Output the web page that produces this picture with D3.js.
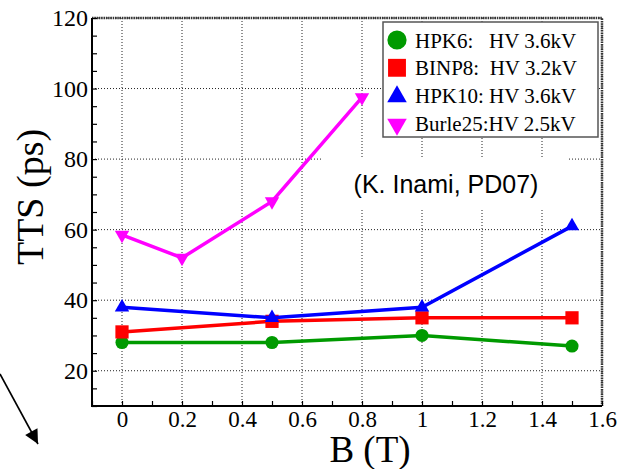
<!DOCTYPE html>
<html>
<head>
<meta charset="utf-8">
<script src="https://cdn.jsdelivr.net/npm/d3@7"></script>
<style>
  body { margin: 0; background: #fff; }
</style>
</head>
<body>
<svg id="chart"></svg>
<script>
// TTS vs magnetic field
var bField = [0, 0.5, 1.0, 1.5];
var hpk6 = [28, 28, 30, 27];
var binp8 = [31, 34, 35, 35];
var hpk10 = [38, 35, 38, 61];
var burleField = [0, 0.2, 0.5, 0.8];
var burle25 = [58.5, 52, 68, 97.5];

var legendLabels = ["HPK6:   HV 3.6kV", "BINP8:  HV 3.2kV", "HPK10: HV 3.6kV", "Burle25:HV 2.5kV"];
var xTicks = [0, 0.2, 0.4, 0.6, 0.8, 1, 1.2, 1.4, 1.6];
var yTicks = [20, 40, 60, 80, 100, 120];

serif = "'Liberation Serif', 'Times New Roman', serif";
sans = "'Liberation Sans', Arial, sans-serif";

width = 622;
height = 469;
margin = {left: 92, right: 20, top: 18, bottom: 63};

svg = d3.select("#chart")
    .attr("width", width)
    .attr("height", height);

x = d3.scaleLinear()
    .domain([-0.1, 1.6])
    .range([margin.left, width - margin.right]);

y = d3.scaleLinear()
    .domain([10, 120])
    .range([height - margin.bottom, margin.top]);

series = [
    {xs: bField, ys: hpk6, color: "#009a00", symbol: d3.symbolCircle, size: 135, big: 290, rot: 0},
    {xs: bField, ys: binp8, color: "#ff0000", symbol: d3.symbolSquare, size: 175, big: 320, rot: 0},
    {xs: bField, ys: hpk10, color: "#0000ff", symbol: d3.symbolTriangle, size: 90, big: 165, rot: 0},
    {xs: burleField, ys: burle25, color: "#ff00ff", symbol: d3.symbolTriangle, size: 90, big: 165, rot: 180}
];

// dotted grid
grid = svg.append("g");
grid.selectAll(".gx")
    .data(xTicks)
    .enter().append("line")
    .attr("x1", (d) => x(d)).attr("x2", (d) => x(d))
    .attr("y1", y(10)).attr("y2", y(120));
grid.selectAll(".gy")
    .data(yTicks)
    .enter().append("line")
    .attr("x1", x(-0.1)).attr("x2", x(1.6))
    .attr("y1", (d) => y(d)).attr("y2", (d) => y(d));
grid.selectAll("line")
    .attr("stroke", "#222")
    .attr("stroke-width", 1)
    .attr("stroke-dasharray", "1,2");

// white patch behind the annotation
svg.append("rect")
    .attr("x", 323).attr("y", 157)
    .attr("width", 245).attr("height", 51)
    .attr("fill", "#fff");

// top and right frame, hatched look
svg.append("path")
    .attr("d", "M" + x(-0.1) + "," + y(120) + "H" + x(1.6) + "V" + y(10))
    .attr("fill", "none")
    .attr("stroke", "#333")
    .attr("stroke-width", 2.5)
    .attr("stroke-dasharray", "1.5,0.8");

// axes: labels only, minor ticks drawn inward separately
svg.append("g")
    .attr("transform", "translate(0," + y(10) + ")")
    .call(d3.axisBottom(x).tickValues(xTicks).tickSize(0).tickPadding(5)
        .tickFormat((d) => d3.format("~g")(d)))
    .call((g) => g.select(".domain").remove())
    .selectAll("text")
    .style("font-size", "23px")
    .style("font-family", serif)
    .attr("fill", "#000");

svg.append("g")
    .attr("transform", "translate(" + x(-0.1) + ",0)")
    .call(d3.axisLeft(y).tickValues(yTicks).tickSize(0).tickPadding(4))
    .call((g) => g.select(".domain").remove())
    .selectAll("text")
    .style("font-size", "24px")
    .style("font-family", serif)
    .attr("fill", "#000");

svg.append("g")
    .attr("transform", "translate(0," + y(10) + ")")
    .call(d3.axisTop(x).tickValues(d3.range(-0.1, 1.65, 0.1)).tickSize(5).tickFormat(""))
    .call((g) => g.select(".domain").remove())
    .selectAll("line").attr("stroke", "#000").attr("stroke-width", 1.2);

svg.append("g")
    .attr("transform", "translate(" + x(-0.1) + ",0)")
    .call(d3.axisRight(y).tickValues(d3.range(10, 121, 5)).tickSize(5).tickFormat(""))
    .call((g) => g.select(".domain").remove())
    .selectAll("line").attr("stroke", "#000").attr("stroke-width", 1.2);

svg.append("path")
    .attr("d", "M" + x(-0.1) + "," + y(120) + "V" + y(10) + "H" + x(1.6))
    .attr("fill", "none")
    .attr("stroke", "#000")
    .attr("stroke-width", 2);

// axis titles
svg.append("text")
    .attr("x", 370).attr("y", 462)
    .attr("text-anchor", "middle")
    .style("font-family", serif)
    .style("font-size", "37px")
    .text("B (T)");

svg.append("text")
    .attr("transform", "translate(43,197) rotate(-90)")
    .attr("text-anchor", "middle")
    .style("font-family", serif)
    .style("font-size", "38px")
    .text("TTS (ps)");

// lines and markers
line = d3.line()
    .x((d) => x(d[0]))
    .y((d) => y(d[1]));

series.forEach(function(s) {
    pts = s.xs.map((v, i) => [v, s.ys[i]]);
    svg.append("path")
        .datum(pts)
        .attr("d", line)
        .attr("fill", "none")
        .attr("stroke", s.color)
        .attr("stroke-width", 3.5);
    svg.selectAll(null)
        .data(pts)
        .enter().append("path")
        .attr("d", d3.symbol().type(s.symbol).size(s.size))
        .attr("transform", (d) => "translate(" + x(d[0]) + "," + y(d[1]) + ") rotate(" + s.rot + ")")
        .attr("fill", s.color);
});

// annotation
svg.append("text")
    .attr("x", 446).attr("y", 193)
    .attr("text-anchor", "middle")
    .style("font-family", sans)
    .style("font-size", "25px")
    .text("(K. Inami, PD07)");

// legend
legend = svg.append("g");
legend.append("rect")
    .attr("x", 383).attr("y", 22)
    .attr("width", 215).attr("height", 115)
    .attr("fill", "#fff")
    .attr("stroke", "#555")
    .attr("stroke-width", 1.5);

series.forEach(function(s, i) {
    cy = 40 + i * 27.8;
    legend.append("path")
        .attr("d", d3.symbol().type(s.symbol).size(s.big))
        .attr("transform", "translate(397," + (cy + (s.symbol === d3.symbolTriangle ? 1 : 0)) + ") rotate(" + s.rot + ")")
        .attr("fill", s.color);
    legend.append("text")
        .attr("x", 415).attr("y", cy + 7.5)
        .style("font-family", serif)
        .style("font-size", "21px")
        .style("white-space", "pre")
        .text(legendLabels[i]);
});

// arrow in lower-left corner
svg.append("defs").append("marker")
    .attr("id", "head")
    .attr("viewBox", "0 0 10 10")
    .attr("refX", 10).attr("refY", 5)
    .attr("markerWidth", 18).attr("markerHeight", 14)
    .attr("markerUnits", "userSpaceOnUse")
    .attr("orient", "auto")
    .append("path")
    .attr("d", "M0,0L10,5L0,10Z")
    .attr("fill", "#000");

svg.append("line")
    .attr("x1", 0).attr("y1", 374)
    .attr("x2", 38).attr("y2", 444)
    .attr("stroke", "#000")
    .attr("stroke-width", 1.6)
    .attr("marker-end", "url(#head)");
</script>
</body>
</html>
